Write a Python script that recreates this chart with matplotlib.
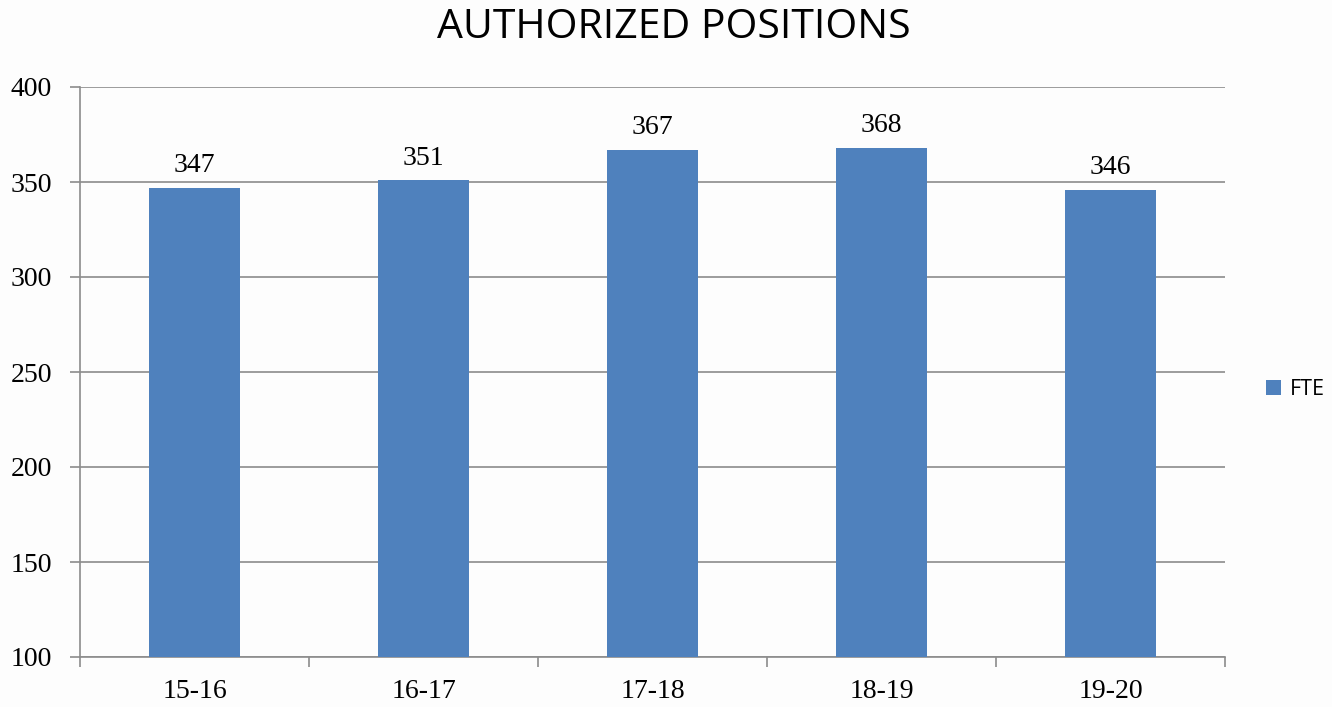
import matplotlib.pyplot as plt
import numpy as np

years = ['15-16', '16-17', '17-18', '18-19', '19-20']
fte = [347, 351, 367, 368, 346]

fig = plt.figure(figsize=(13.32, 7.07), dpi=100)
fig.patch.set_facecolor('#fdfdfd')
ax = fig.add_axes([80 / 1332, 1 - 657 / 707, 1145 / 1332, 570 / 707])
ax.set_facecolor('none')

x = np.arange(len(years))
bars = ax.bar(x, fte, width=0.4, color='#4f81bd', label='FTE', zorder=3, bottom=0)

ax.set_xlim(-0.5, len(years) - 0.5)
ax.set_ylim(100, 400)
ax.set_yticks(range(100, 401, 50))
ax.yaxis.grid(True, color='#8c8c8c', linewidth=1.2, zorder=0)

# x ticks at category boundaries, labels at centres
ax.set_xticks(np.arange(-0.5, len(years), 1.0))
ax.set_xticklabels([])
ax.set_xticks(x, minor=True)
ax.set_xticklabels(years, minor=True)
ax.tick_params(axis='x', which='minor', length=0, pad=16)
ax.tick_params(axis='x', which='major', length=7, width=1.2, color='#8c8c8c')
ax.tick_params(axis='y', length=7, width=1.2, color='#8c8c8c', pad=13)

for lbl in ax.get_yticklabels() + ax.get_xticklabels(minor=True):
    lbl.set_fontfamily('Liberation Serif')
    lbl.set_fontsize(20)

for sp in ['top', 'right']:
    ax.spines[sp].set_visible(False)
for sp in ['left', 'bottom']:
    ax.spines[sp].set_color('#8c8c8c')
    ax.spines[sp].set_linewidth(1.2)

for b, v in zip(bars, fte):
    ax.text(b.get_x() + b.get_width() / 2, v + 5, str(v), ha='center', va='bottom',
            fontfamily='Liberation Serif', fontsize=20)

fig.text(674 / 1332, 1 - 28 / 707, 'AUTHORIZED POSITIONS', ha='center', va='center',
         fontfamily='Open Sans', fontsize=29.5)

leg = fig.legend(loc='center left', bbox_to_anchor=(1247 / 1332, 1 - 390 / 707),
                 frameon=False, prop={'family': 'Open Sans', 'size': 15.5},
                 handlelength=0.7, handleheight=0.7, handletextpad=0.4)

fig.savefig('out.png', dpi=100, facecolor=fig.get_facecolor())
